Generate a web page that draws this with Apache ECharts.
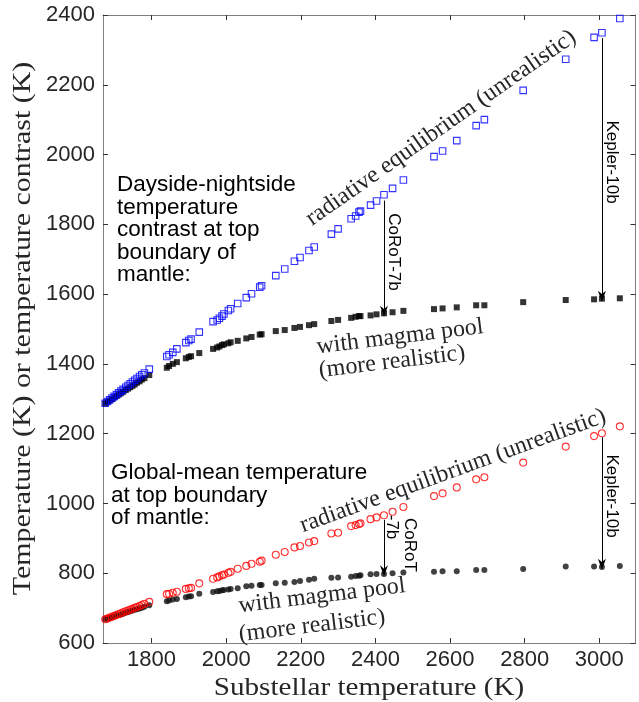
<!DOCTYPE html>
<html><head><meta charset="utf-8">
<script src="https://cdn.jsdelivr.net/npm/echarts@6/dist/echarts.min.js"></script>
<style>html,body{margin:0;padding:0;background:#fff}#c{width:639px;height:702px}</style>
</head><body><div id="c"></div>
<script>
// Substellar temperature (K)
const tSub = [1676,1682,1688,1694,1700,1706,1712,1718,1724,1731,1737,1743,1749,1755,1761,1768,1774,1781,1794,
  1841,1847,1857,1868,1892,1900,1906,1928,1965,1976,1982,1989,1994,2006,2012,2031,2054,2068,2090,2095,
  2133,2157,2183,2198,2222,2236,2282,2300,2335,2347,2356,2360,2387,2403,2423,2446,2475,2557,2580,2618,
  2670,2692,2796,2910,2986,3007,3055];
// Dayside-nightside contrast, radiative equilibrium (blue open squares)
const dnRadEq = [1287,1292,1297,1302,1307,1312,1317,1322,1327,1333,1338,1343,1348,1353,1358,1364,1369,1374,1385,
  1421,1426,1433,1443,1461,1467,1471,1491,1521,1526,1531,1537,1543,1553,1558,1573,1590,1601,1620,1624,
  1653,1672,1694,1705,1725,1735,1772,1787,1816,1824,1835,1838,1855,1867,1885,1903,1927,1994,2010,2040,
  2083,2100,2184,2273,2336,2349,2390];
// Dayside-nightside contrast, with magma pool (black squares)
const dnMagma = [1287,1291,1295,1299,1304,1308,1312,1316,1320,1325,1329,1333,1337,1341,1346,1350,1355,1359,1368,
  1389,1394,1400,1405,1416,1420,1422,1431,1443,1447,1450,1454,1456,1459,1462,1466,1473,1477,1484,1485,
  1494,1497,1503,1506,1511,1514,1523,1526,1532,1535,1537,1537,1539,1542,1545,1548,1552,1557,1559,1562,
  1568,1568,1577,1583,1585,1587,1588];
// Global-mean, radiative equilibrium (red open circles)
const gmRadEq = [668,670,673,675,678,680,683,685,688,691,693,696,698,701,703,706,709,712,718,
  740,741,744,747,755,757,758,771,784,788,791,794,796,801,804,813,821,827,833,836,
  853,861,874,878,888,892,914,916,935,938,941,943,955,960,966,976,990,1021,1029,1046,
  1069,1075,1117,1163,1193,1201,1221];
// Global-mean, with magma pool (black dots)
const gmMagma = [668,670,672,674,676,678,680,682,684,687,689,691,693,695,697,699,701,704,708,
  720,722,725,726,731,733,734,741,746,748,749,751,752,753,755,757,763,764,766,766,
  771,773,775,778,781,784,787,788,790,792,793,794,797,798,798,800,802,804,806,806,
  809,809,812,819,819,818,821];
const xTicks = [1800,2000,2200,2400,2600,2800,3000];
const yTicks = [600,800,1000,1200,1400,1600,1800,2000,2200,2400];
// Arrow annotations: [x, yStart, yEnd]
const arrows = [[2423,1868,1551],[3007,2334,1594],[2423,953,807],[3007,1190,826]];

const SANS = '"Liberation Sans", Arial, Helvetica, sans-serif';
const SERIF = '"Liberation Serif", "Times New Roman", serif';
const pts = ys => tSub.map((t,i)=>[t, ys[i]]);
const axisCol = '#808080';
const tickStyle = {color:'#333', width:1};
const plain = v => String(v);

function xAx(pos, labels){
  return {type:'value', min:1670, max:3097, position:pos,
    axisLine:{show:true, onZero:false, lineStyle:{color:axisCol, width:1}},
    axisTick:{show:true, inside:true, length:5, customValues:xTicks, lineStyle:tickStyle},
    axisLabel:{show:labels, customValues:xTicks, formatter:plain, fontSize:22, fontFamily:SANS, color:'#262626', margin:6},
    splitLine:{show:false}};
}
function yAx(pos, labels){
  return {type:'value', min:600, max:2400, interval:200, position:pos,
    axisLine:{show:true, onZero:false, lineStyle:{color:axisCol, width:1}},
    axisTick:{show:true, inside:true, length:5, customValues:yTicks, lineStyle:tickStyle},
    axisLabel:{show:labels, customValues:yTicks, formatter:plain, fontSize:22, fontFamily:SANS, color:'#262626', margin:8},
    splitLine:{show:false}};
}

const arrowHead = 'path://M5,0 L10,13 L5,9 L0,13 Z';

const graphics = [];
function txt(x,y,text,font,opts){
  opts = opts||{};
  graphics.push({type:'text', x:x, y:y, rotation:opts.rot||0, scaleX:opts.sx||1, silent:true, z:100,
    style:{text:text, font:font, fill:opts.fill||'#000', textAlign:opts.align||'left', textVerticalAlign:'middle'}});
}
const f22 = '22.5px ' + SANS;
['Dayside-nightside','temperature','contrast at top','boundary of','mantle:'].forEach((s,i)=>txt(117, 185+i*22.5, s, f22));
['Global-mean temperature','at top boundary','of mantle:'].forEach((s,i)=>txt(111, 472.5+i*22.8, s, f22));
const sf = '24px ' + SERIF;
const g = '#262626';
txt(441,128,'radiative equilibrium (unrealistic)', sf, {rot:35*Math.PI/180, align:'center', fill:g});
txt(453,471,'radiative equilibrium (unrealistic)', sf, {rot:20*Math.PI/180, align:'center', fill:g});
txt(400,337,'with magma pool', sf, {rot:7*Math.PI/180, align:'center', fill:g});
txt(392,362,'(more realistic)', sf, {rot:7*Math.PI/180, align:'center', fill:g});
txt(322,596,'with magma pool', sf, {rot:7*Math.PI/180, align:'center', fill:g});
txt(312,626,'(more realistic)', sf, {rot:7*Math.PI/180, align:'center', fill:g});
const f17 = '17px ' + SANS;
txt(394,252,'CoRoT-7b', f17, {rot:-Math.PI/2, align:'center'});
txt(612,162,'Kepler-10b', f17, {rot:-Math.PI/2, align:'center'});
txt(612,496,'Kepler-10b', f17, {rot:-Math.PI/2, align:'center'});
txt(410,545,'CoRoT', f17, {rot:-Math.PI/2, align:'center'});
txt(392,527,'-7b', f17, {rot:-Math.PI/2, align:'center'});
const tf = '26px ' + SERIF;
txt(369,688,'Substellar temperature (K)', tf, {align:'center', fill:g, sx:1.12});
txt(23,328.5,'Temperature (K) or temperature contrast (K)', tf, {rot:Math.PI/2, align:'center', fill:g, sx:1.15});

const chart = echarts.init(document.getElementById('c'), null, {renderer:'canvas'});
chart.setOption({
  animation:false,
  backgroundColor:'#fff',
  grid:{left:103, right:3.5, top:15, bottom:59, containLabel:false},
  xAxis:[xAx('bottom', true), xAx('top', false)],
  yAxis:[yAx('left', true), yAx('right', false)],
  series:[
    {type:'scatter', name:'dn magma', data:pts(dnMagma), symbol:'rect', symbolSize:6,
      itemStyle:{color:'#000'}, z:2,
      markLine:{silent:true, symbol:['none', arrowHead], symbolSize:[8,11],
        label:{show:false}, lineStyle:{color:'#000', width:1, type:'solid'},
        data: arrows.map(a=>[{coord:[a[0],a[1]]},{coord:[a[0],a[2]]}])}},
    {type:'scatter', name:'dn radeq', data:pts(dnRadEq), symbol:'rect', symbolSize:6.5,
      itemStyle:{color:'rgba(0,0,0,0)', borderColor:'#0000ff', borderWidth:1.1}, z:3},
    {type:'scatter', name:'gm magma', data:pts(gmMagma), symbol:'circle', symbolSize:6,
      itemStyle:{color:'#111'}, z:2},
    {type:'scatter', name:'gm radeq', data:pts(gmRadEq), symbol:'circle', symbolSize:7,
      itemStyle:{color:'rgba(0,0,0,0)', borderColor:'#ff0000', borderWidth:1.1}, z:3}
  ],
  graphic:graphics
});
</script></body></html>
